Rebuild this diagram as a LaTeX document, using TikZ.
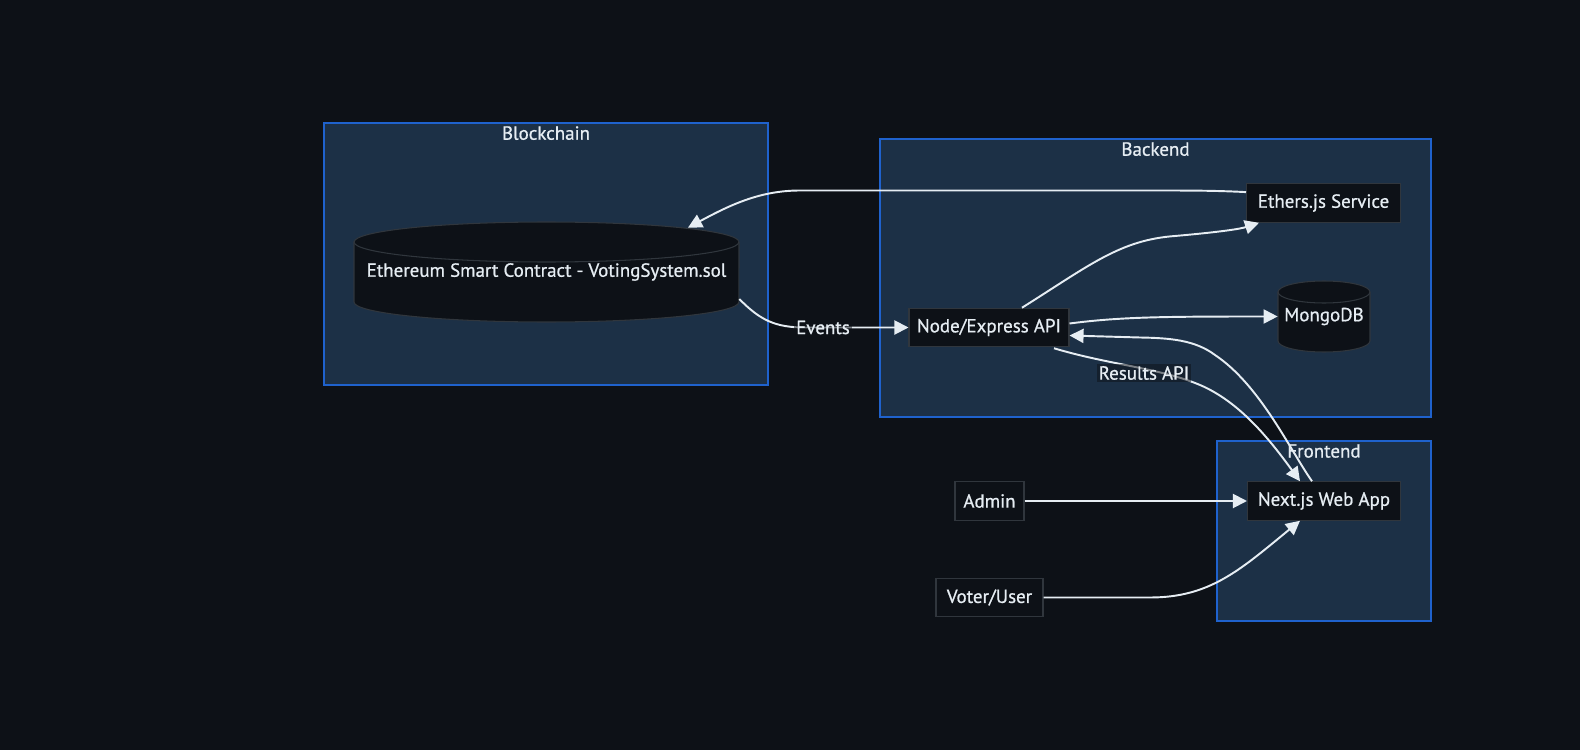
\documentclass[tikz,border=0pt]{standalone}
\usepackage{fontspec}
\setmainfont{PT Sans}[BoldFont=PT Sans, BoldFeatures={FakeBold=0.8}]
\usetikzlibrary{arrows.meta,calc}

\definecolor{pagebg}{RGB}{13,17,23}
\definecolor{clusterbg}{RGB}{28,48,70}
\definecolor{clusterline}{RGB}{31,98,205}
\definecolor{boxline}{RGB}{48,54,61}
\definecolor{ink}{RGB}{230,237,243}

\tikzset{
  cluster/.style={draw=clusterline, fill=clusterbg, line width=0.7pt},
  cltitle/.style={text=ink, font=\fontsize{10.8}{12}\selectfont\bfseries, anchor=north, inner sep=2pt},
  box/.style={draw=boxline, fill=pagebg, text=ink, line width=0.6pt, minimum height=0.77cm, inner sep=2pt, font=\fontsize{10.8}{12}\selectfont\bfseries},
  dbtext/.style={text=ink, inner sep=0pt, font=\fontsize{10.8}{12}\selectfont\bfseries},
  dbshape/.style={draw=boxline, fill=pagebg, line width=0.6pt},
  edge/.style={draw=ink, line width=1.1pt, -{Triangle[length=8pt,width=8pt]}},
  elabel/.style={fill=pagebg, fill opacity=0.5, text opacity=1, text=ink, inner sep=1pt, font=\fontsize{10.8}{12}\selectfont\bfseries},
}

\begin{document}
\begin{tikzpicture}[x=0.02cm, y=-0.02cm]
  \useasboundingbox[fill=pagebg] (0,0) rectangle (1580,750);

  % subgraphs
  \node[cluster, minimum width=8.88cm, minimum height=5.24cm] (blockchain) at (546,254) {};
  \node[cluster, minimum width=11.02cm, minimum height=5.56cm] (backend) at (1155.5,278) {};
  \node[cluster, minimum width=4.28cm, minimum height=3.6cm] (frontend) at (1324,531) {};
  \node[cltitle] (bctitle) at (blockchain.north) {Blockchain};
  \node[cltitle] (betitle) at (backend.north) {Backend};
  \node[cltitle] (fetitle) at (frontend.north) {Frontend};

  % smart contract (cylinder)
  \coordinate (scc) at (546.5,272);
  \draw[dbshape] ($(scc)+(-192.5,-30)$) -- ($(scc)+(-192.5,30)$)
    arc[start angle=180, end angle=360, x radius=3.85cm, y radius=0.4cm]
    -- ($(scc)+(192.5,-30)$)
    arc[start angle=0, end angle=180, x radius=3.85cm, y radius=0.4cm] -- cycle;
  \draw[dbshape, fill=none] ($(scc)+(-192.5,-30)$)
    arc[start angle=180, end angle=360, x radius=3.85cm, y radius=0.4cm];
  \node[dbtext, minimum width=7.7cm, minimum height=2cm] (sc) at (scc) {Ethereum Smart Contract - VotingSystem.sol};

  % mongodb (cylinder)
  \coordinate (dbc) at (1324,316.5);
  \draw[dbshape] ($(dbc)+(-46,-24.5)$) -- ($(dbc)+(-46,24.5)$)
    arc[start angle=180, end angle=360, x radius=0.92cm, y radius=0.22cm]
    -- ($(dbc)+(46,-24.5)$)
    arc[start angle=0, end angle=180, x radius=0.92cm, y radius=0.22cm] -- cycle;
  \draw[dbshape, fill=none] ($(dbc)+(-46,-24.5)$)
    arc[start angle=180, end angle=360, x radius=0.92cm, y radius=0.22cm];
  \node[dbtext, minimum width=1.84cm, minimum height=1.42cm] (mongo) at (dbc) {MongoDB};

  % boxes
  \node[box, minimum width=3.08cm] (eth) at (1323.5,203) {Ethers.js Service};
  \node[box, minimum width=3.2cm] (api) at (989,327.5) {Node/Express API};
  \node[box, minimum width=3.06cm] (web) at (1324,501) {Next.js Web App};
  \node[box, minimum width=1.38cm] (admin) at (989.5,501) {Admin};
  \node[box, minimum width=2.14cm] (voter) at (989.5,597.5) {Voter/User};

  % connectors
  \draw[edge] (eth.172) .. controls (1215,190.5) and (1190,190.5) .. (1150,190.5)
    -- (800,190.5) .. controls (760,190.5) and (730,205) .. ($(sc.north)+(141.5,6)$);
  \draw[edge] ($(api.north)+(33,0)$) .. controls (1090,265) and (1120,240) .. (1175,236)
    .. controls (1220,232) and (1240,229) .. ($(eth.south west)+(13,0)$);
  \draw[edge] ($(sc.east)+(0,27)$) .. controls (760,320) and (775,327.5) .. (805,327.5)
    -- (api.west);
  \node[elabel] (evlabel) at (823,327.5) {Events};
  \draw[edge] ($(api.east)+(0,-4)$) .. controls (1120,317) and (1160,316.5) .. (mongo.west);
  \draw[edge] ($(api.south)+(65,1)$) .. controls (1110,365) and (1160,368) .. (1200,385)
    .. controls (1240,402) and (1270,440) .. ($(web.north)+(-24,0)$);
  \node[elabel] (reslabel) at (1144,373) {Results API};
  \draw[edge] ($(web.north)+(-12,0)$) .. controls (1290,450) and (1260,385) .. (1215,355)
    .. controls (1195,340) and (1170,338) .. (1140,337.5) -- ($(api.east)+(0,8)$);
  \draw[edge] (admin.east) -- (web.west);
  \draw[edge] (voter.east) -- (1150,597.5) .. controls (1210,597.5) and (1240,570)
    .. ($(web.south)+(-24,0)$);
\end{tikzpicture}
\end{document}
